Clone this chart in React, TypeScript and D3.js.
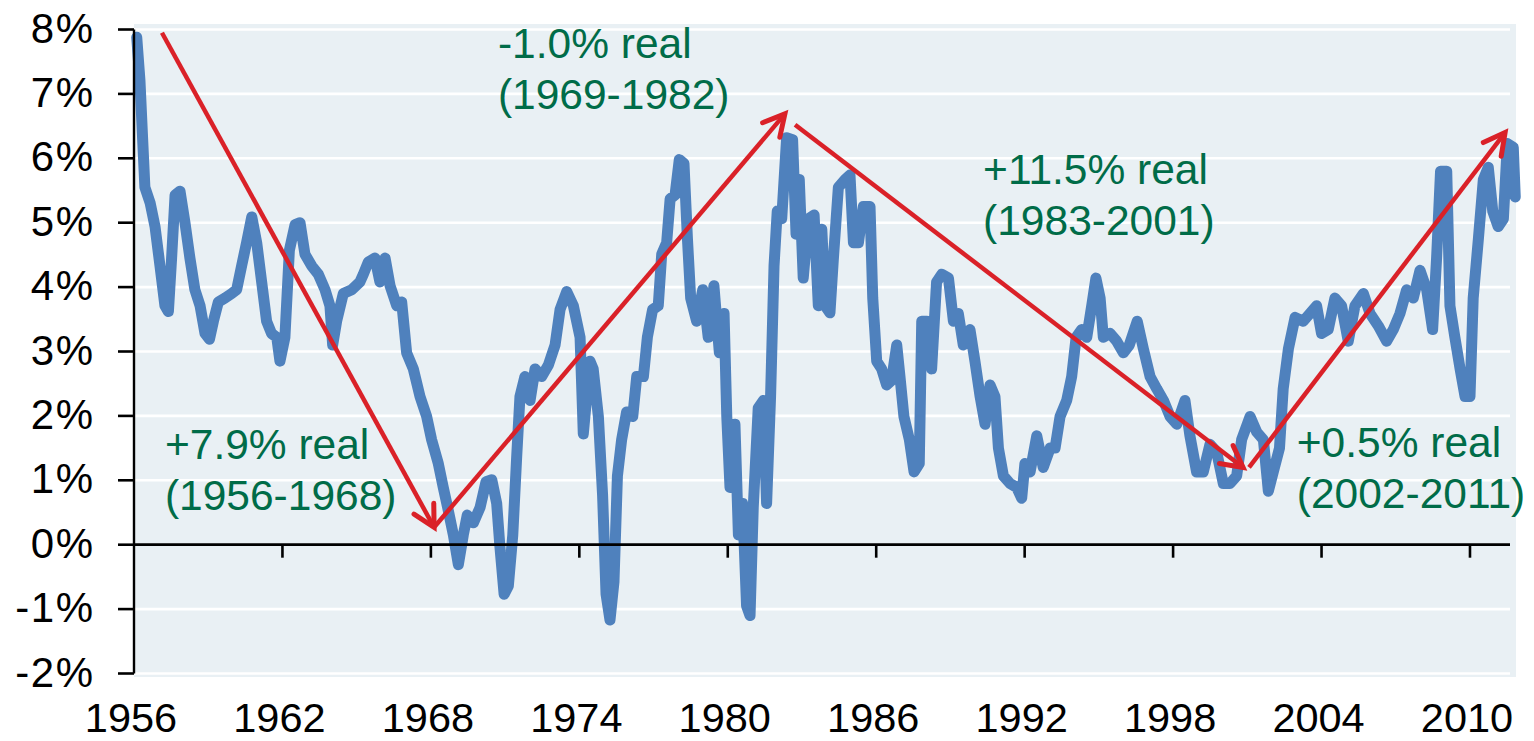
import React, { useRef, useEffect } from 'react';
import * as d3 from 'd3';

// real 10y yield
const years = [
  1956.11, 1956.24, 1956.35, 1956.44, 1956.65, 1956.85, 1957.05, 1957.25, 1957.39, 1957.52,
  1957.66, 1957.86, 1958.06, 1958.26, 1958.46, 1958.67, 1958.87, 1959.05, 1959.21, 1959.41,
  1959.68, 1959.95, 1960.15, 1960.35, 1960.55, 1960.76, 1960.96, 1961.16, 1961.36, 1961.56,
  1961.77, 1961.9, 1962.1, 1962.28, 1962.51, 1962.71, 1962.91, 1963.18, 1963.45, 1963.72,
  1963.92, 1964.03, 1964.19, 1964.46, 1964.8, 1965.13, 1965.27, 1965.47, 1965.74, 1965.94,
  1966.15, 1966.35, 1966.62, 1966.82, 1967.02, 1967.29, 1967.56, 1967.83, 1968.03, 1968.3,
  1968.5, 1968.71, 1968.91, 1969.11, 1969.31, 1969.47, 1969.72, 1969.99, 1970.23, 1970.46,
  1970.66, 1970.79, 1970.96, 1971.13, 1971.31, 1971.47, 1971.6, 1971.8, 1972.01, 1972.21,
  1972.48, 1972.75, 1973.02, 1973.22, 1973.49, 1973.76, 1974.03, 1974.16, 1974.43, 1974.56,
  1974.77, 1974.94, 1975.08, 1975.24, 1975.4, 1975.54, 1975.71, 1975.91, 1976.16, 1976.32,
  1976.59, 1976.75, 1976.96, 1977.19, 1977.33, 1977.53, 1977.67, 1977.87, 1978.04, 1978.23,
  1978.37, 1978.5, 1978.74, 1978.99, 1979.21, 1979.44, 1979.66, 1979.85, 1979.96, 1980.09,
  1980.29, 1980.43, 1980.6, 1980.76, 1980.9, 1981.03, 1981.23, 1981.44, 1981.57, 1981.73,
  1981.87, 1982.0, 1982.18, 1982.38, 1982.62, 1982.76, 1982.89, 1983.05, 1983.26, 1983.49,
  1983.66, 1983.8, 1983.95, 1984.13, 1984.27, 1984.47, 1984.74, 1984.94, 1985.08, 1985.28,
  1985.48, 1985.75, 1985.86, 1986.02, 1986.22, 1986.42, 1986.62, 1986.83, 1986.96, 1987.12,
  1987.34, 1987.53, 1987.74, 1987.84, 1988.04, 1988.24, 1988.44, 1988.65, 1988.92, 1989.12,
  1989.32, 1989.52, 1989.79, 1989.99, 1990.2, 1990.4, 1990.6, 1990.8, 1990.94, 1991.14,
  1991.41, 1991.68, 1991.88, 1992.01, 1992.22, 1992.49, 1992.75, 1993.03, 1993.23, 1993.43,
  1993.7, 1993.9, 1994.08, 1994.3, 1994.51, 1994.71, 1994.88, 1995.05, 1995.18, 1995.45,
  1995.72, 1995.99, 1996.23, 1996.55, 1996.8, 1997.07, 1997.34, 1997.61, 1997.88, 1998.15,
  1998.48, 1998.68, 1998.95, 1999.22, 1999.49, 1999.76, 2000.03, 2000.3, 2000.57, 2000.77,
  2001.11, 2001.38, 2001.65, 2001.85, 2002.05, 2002.3, 2002.45, 2002.66, 2002.93, 2003.26,
  2003.53, 2003.8, 2004.0, 2004.27, 2004.54, 2004.81, 2005.08, 2005.35, 2005.69, 2005.96,
  2006.29, 2006.63, 2006.9, 2007.17, 2007.44, 2007.71, 2007.98, 2008.25, 2008.49, 2008.65,
  2008.81, 2009.06, 2009.19, 2009.39, 2009.6, 2009.8, 2010.0, 2010.13, 2010.34, 2010.54,
  2010.74, 2010.92, 2011.14, 2011.35, 2011.51, 2011.75, 2011.83,
];

const realYield = [
  7.88, 7.21, 6.29, 5.55, 5.31, 4.94, 4.33, 3.71, 3.62, 4.45,
  5.43, 5.49, 5.0, 4.45, 3.96, 3.71, 3.28, 3.19, 3.47, 3.77,
  3.83, 3.9, 3.96, 4.33, 4.69, 5.09, 4.69, 4.08, 3.47, 3.28,
  3.22, 2.85, 3.22, 4.57, 4.97, 5.0, 4.51, 4.33, 4.2, 3.96,
  3.71, 3.1, 3.47, 3.9, 3.96, 4.08, 4.2, 4.39, 4.45, 4.08,
  4.45, 4.02, 3.71, 3.77, 2.98, 2.73, 2.3, 1.99, 1.63, 1.26,
  0.89, 0.52, 0.15, -0.31, 0.15, 0.46, 0.34, 0.58, 0.98, 1.01,
  0.64, -0.03, -0.77, -0.64, 0.15, 1.38, 2.3, 2.61, 2.24, 2.73,
  2.61, 2.79, 3.1, 3.65, 3.93, 3.71, 3.22, 1.72, 2.85, 2.73,
  1.99, 0.77, -0.77, -1.17, -0.58, 1.07, 1.63, 2.06, 1.99, 2.61,
  2.61, 3.22, 3.65, 3.71, 4.51, 4.69, 5.37, 5.43, 5.98, 5.92,
  4.75, 3.83, 3.47, 3.96, 3.22, 4.02, 2.98, 3.59, 1.99, 0.89,
  1.87, 0.15, 0.64, -0.95, -1.1, 0.58, 2.12, 2.24, 0.64, 2.3,
  4.33, 5.18, 5.06, 6.32, 6.29, 4.82, 5.67, 4.14, 5.06, 5.12,
  3.71, 4.9, 3.7, 3.6, 4.45, 5.55, 5.67, 5.74, 4.69, 4.69,
  5.25, 5.25, 3.83, 2.85, 2.73, 2.48, 2.55, 3.1, 2.61, 1.99,
  1.63, 1.13, 1.26, 3.47, 3.47, 2.73, 4.08, 4.2, 4.14, 3.47,
  3.59, 3.1, 3.34, 2.85, 2.3, 1.87, 2.48, 2.3, 1.5, 1.07,
  0.95, 0.89, 0.72, 1.26, 1.13, 1.69, 1.2, 1.5, 1.5, 1.99,
  2.24, 2.61, 3.22, 3.34, 3.22, 3.71, 4.14, 3.83, 3.22, 3.28,
  3.16, 2.98, 3.1, 3.47, 3.04, 2.61, 2.42, 2.24, 1.99, 1.87,
  2.24, 1.69, 1.13, 1.13, 1.56, 1.44, 0.95, 0.95, 1.07, 1.63,
  1.99, 1.75, 1.63, 0.83, 1.13, 1.5, 2.42, 3.04, 3.53, 3.47,
  3.59, 3.71, 3.28, 3.34, 3.83, 3.71, 3.16, 3.71, 3.9, 3.59,
  3.4, 3.16, 3.34, 3.59, 3.96, 3.83, 4.26, 3.96, 3.34, 4.45,
  5.8, 5.8, 3.71, 3.22, 2.73, 2.3, 2.3, 3.83, 4.75, 5.67,
  5.86, 5.18, 4.94, 5.06, 6.23, 6.17, 5.4,
];

const yTicks = [8, 7, 6, 5, 4, 3, 2, 1, 0, -1, -2];
const xTicks = [1956, 1962, 1968, 1974, 1980, 1986, 1992, 1998, 2004, 2010];

const periodReturns = ['+7.9% real', '-1.0% real', '+11.5% real', '+0.5% real'];
const periodRanges = ['(1956-1968)', '(1969-1982)', '(1983-2001)', '(2002-2011)'];
const labelYears = [1957.25, 1970.71, 1990.32, 2003.0];
const labelValues = [1.33, 7.56, 5.6, 1.36];

const arrowStart = [[1957.13, 7.95], [1968.13, 0.27], [1982.72, 6.52], [2001.07, 1.2]];
const arrowEnd = [[1968.13, 0.27], [1982.31, 6.69], [2000.83, 1.2], [2011.42, 6.4]];

const W = 1534;
const H = 741;
const FONT = '"Liberation Sans", Arial, sans-serif';

const App = () => {
  const svgRef = useRef<SVGSVGElement>(null);

  useEffect(() => {
    const svg = d3.select(svgRef.current);
    svg.selectAll('*').remove();

    const x = d3.scaleLinear().domain([1956, 2011.86]).range([134, 1516]);
    const y = d3.scaleLinear().domain([-2, 8]).range([673.5, 29.5]);
    const gridEnd = x.range()[1] - 6;

    svg.append('rect')
      .attr('x', x.range()[0])
      .attr('y', y(8) - 5.5)
      .attr('width', x.range()[1] - x.range()[0])
      .attr('height', y(-2) - y(8) + 9)
      .attr('fill', '#E9F0F4');

    svg.append('g')
      .selectAll('line')
      .data(yTicks.filter((d) => d !== 0))
      .join('line')
      .attr('x1', x.range()[0])
      .attr('x2', gridEnd)
      .attr('y1', (d) => y(d))
      .attr('y2', (d) => y(d))
      .attr('stroke', '#fff')
      .attr('stroke-width', 2.6);

    const data = years.map((yr, i) => [yr, realYield[i]] as [number, number]);
    const line = d3.line<[number, number]>()
      .x((d) => x(d[0]))
      .y((d) => y(d[1]));

    svg.append('path')
      .datum(data)
      .attr('d', line)
      .attr('fill', 'none')
      .attr('stroke', '#4F81BD')
      .attr('stroke-width', 11)
      .attr('stroke-linejoin', 'round')
      .attr('stroke-linecap', 'round');

    // axes
    svg.append('line')
      .attr('x1', x.range()[0]).attr('x2', x.range()[0])
      .attr('y1', y(8)).attr('y2', y(-2))
      .attr('stroke', '#000').attr('stroke-width', 2.4);
    svg.append('g')
      .selectAll('line')
      .data(yTicks)
      .join('line')
      .attr('x1', x.range()[0] - 16)
      .attr('x2', x.range()[0])
      .attr('y1', (d) => y(d))
      .attr('y2', (d) => y(d))
      .attr('stroke', '#000')
      .attr('stroke-width', 2.6);
    svg.append('line')
      .attr('x1', x.range()[0]).attr('x2', gridEnd)
      .attr('y1', y(0)).attr('y2', y(0))
      .attr('stroke', '#000').attr('stroke-width', 2.8);
    svg.append('g')
      .selectAll('line')
      .data(xTicks.slice(1))
      .join('line')
      .attr('x1', (d) => x(d))
      .attr('x2', (d) => x(d))
      .attr('y1', y(0))
      .attr('y2', y(0) + 13)
      .attr('stroke', '#000')
      .attr('stroke-width', 2.6);

    svg.append('g')
      .selectAll('text')
      .data(yTicks)
      .join('text')
      .attr('x', x.range()[0] - 39.5)
      .attr('y', (d) => y(d) + 13)
      .attr('text-anchor', 'end')
      .attr('font-family', FONT)
      .attr('font-size', 42)
      .attr('letter-spacing', 1.5)
      .attr('fill', '#000')
      .text((d) => `${d}%`);

    svg.append('g')
      .selectAll('text')
      .data(xTicks)
      .join('text')
      .attr('x', (d) => x(d) - 3)
      .attr('y', y(-2) + 58.5)
      .attr('text-anchor', 'middle')
      .attr('font-family', FONT)
      .attr('font-size', 41.5)
      .attr('fill', '#000')
      .text((d) => d);

    // red arrows
    const red = '#DA2128';
    arrowStart.forEach((s, i) => {
      const e = arrowEnd[i];
      const x0 = x(s[0]), y0 = y(s[1]), x1 = x(e[0]), y1 = y(e[1]);
      svg.append('line')
        .attr('x1', x0).attr('y1', y0).attr('x2', x1).attr('y2', y1)
        .attr('stroke', red).attr('stroke-width', 4.5);
      const ang = Math.atan2(y0 - y1, x0 - x1);
      const len = 24;
      const spread = (28 * Math.PI) / 180;
      const pts: [number, number][] = [
        [x1 + len * Math.cos(ang + spread), y1 + len * Math.sin(ang + spread)],
        [x1, y1],
        [x1 + len * Math.cos(ang - spread), y1 + len * Math.sin(ang - spread)],
      ];
      svg.append('path')
        .attr('d', d3.line()(pts))
        .attr('fill', 'none')
        .attr('stroke', red)
        .attr('stroke-width', 5)
        .attr('stroke-linejoin', 'miter')
        .attr('stroke-linecap', 'round');
    });

    // period labels
    periodReturns.forEach((t, i) => {
      const g = svg.append('text')
        .attr('font-family', FONT)
        .attr('font-size', 42.5)
        .attr('fill', '#006C48');
      g.append('tspan')
        .attr('x', x(labelYears[i]))
        .attr('y', y(labelValues[i]))
        .text(t);
      g.append('tspan')
        .attr('x', x(labelYears[i]))
        .attr('y', y(labelValues[i]) + 51)
        .text(periodRanges[i]);
    });
  }, []);

  return (
    <svg
      ref={svgRef}
      width={W}
      height={H}
      style={{ position: 'absolute', left: 0, top: 0, background: '#fff' }}
    />
  );
};

export default App;
